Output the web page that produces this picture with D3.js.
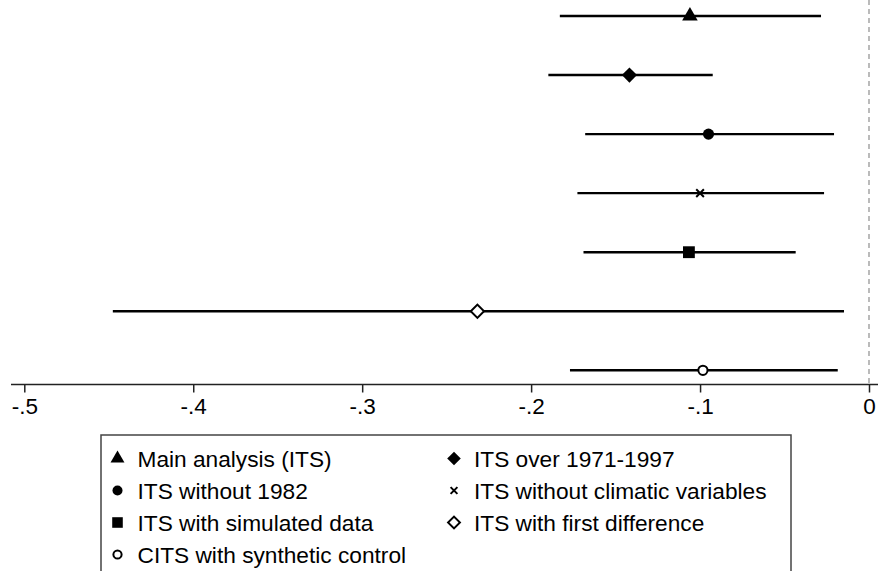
<!DOCTYPE html>
<html>
<head>
<meta charset="utf-8">
<script src="https://cdn.jsdelivr.net/npm/d3@7"></script>
<style>
  body { margin: 0; background: #fff; }
  svg { display: block; font-family: "Liberation Sans", Arial, sans-serif; }
</style>
</head>
<body>
<div id="chart"></div>
<script>
let width = 878, height = 571;

// Models, top to bottom
const models = ["Main analysis (ITS)", "ITS over 1971-1997", "ITS without 1982",
    "ITS without climatic variables", "ITS with simulated data",
    "ITS with first difference", "CITS with synthetic control"];
const estimates = [-0.106, -0.1418, -0.095, -0.100, -0.1066, -0.2318, -0.0983];
const lower = [-0.183, -0.1898, -0.168, -0.1726, -0.169, -0.4476, -0.177];
const upper = [-0.0284, -0.0925, -0.0207, -0.0266, -0.0434, -0.0148, -0.0185];
const markers = ["triangle", "diamond", "circle", "x", "square", "hdiamond", "hcircle"];
const xTicks = [-0.5, -0.4, -0.3, -0.2, -0.1, 0];
const xTickLabels = ["-.5", "-.4", "-.3", "-.2", "-.1", "0"];

const svg = d3.select("#chart")
        .append("svg")
        .attr("width", width)
        .attr("height", height);

const x = d3.scaleLinear().domain([-0.5, 0]).range([24.3, 869]);
const y = d3.scalePoint().domain(models).range([16, 370.3]);
const axisY = 384.5;

// reference line at zero
svg.append("line")
    .attr("x1", x(0)).attr("x2", x(0))
    .attr("y1", 0).attr("y2", axisY)
    .attr("stroke", "#aaa")
    .attr("stroke-width", 1.6)
    .attr("stroke-dasharray", "5,4");

// x axis
const axis = svg.append("g")
    .attr("transform", "translate(0," + axisY + ")")
    .call(d3.axisBottom(x).tickValues(xTicks).tickSizeOuter(0).tickSize(8).tickPadding(6)
        .tickFormat((d, i) => xTickLabels[i]));
axis.select(".domain").remove();
axis.append("line")
    .attr("x1", 11).attr("x2", width)
    .attr("stroke", "#222").attr("stroke-width", 1.5);
axis.selectAll(".tick line").attr("stroke", "#222").attr("stroke-width", 1.5);
axis.selectAll(".tick text")
    .attr("fill", "#000")
    .attr("font-size", 22.5)
    .attr("font-family", "Liberation Sans, Arial, sans-serif");

// draw a marker of the given type into a group
function drawMarker(g, type, s) {
    s = s || 1;
    if (type === "triangle") {
        g.append("path").attr("d", d3.symbol(d3.symbolTriangle, 105 * s)()).attr("fill", "#000");
    } else if (type === "diamond") {
        g.append("path").attr("d", d3.symbol(d3.symbolSquare, 115 * s)()).attr("transform", "rotate(45)").attr("fill", "#000");
    } else if (type === "circle") {
        g.append("circle").attr("r", 5.6 * Math.sqrt(s)).attr("fill", "#000");
    } else if (type === "x") {
        g.append("path").attr("d", d3.symbol(d3.symbolTimes, 40 * s)()).attr("fill", "none")
            .attr("stroke", "#000").attr("stroke-width", 2);
    } else if (type === "square") {
        g.append("path").attr("d", d3.symbol(d3.symbolSquare, 140 * s)()).attr("fill", "#000");
    } else if (type === "hdiamond") {
        g.append("path").attr("d", d3.symbol(d3.symbolSquare, 88 * s)()).attr("transform", "rotate(45)")
            .attr("fill", "#fff").attr("stroke", "#000").attr("stroke-width", 2);
    } else if (type === "hcircle") {
        g.append("circle").attr("r", 4.6 * Math.sqrt(s)).attr("fill", "#fff")
            .attr("stroke", "#000").attr("stroke-width", 2);
    }
}

// confidence intervals
const rows = models.map((m, i) => ({name: m, est: estimates[i], lo: lower[i], hi: upper[i], marker: markers[i]}));

svg.selectAll(".ci")
    .data(rows)
    .enter()
        .append("line")
        .attr("class", "ci")
        .attr("x1", d => x(d.lo))
        .attr("x2", d => x(d.hi))
        .attr("y1", d => y(d.name))
        .attr("y2", d => y(d.name))
        .attr("stroke", "#000")
        .attr("stroke-width", 2.4);

svg.selectAll(".pt")
    .data(rows)
    .enter()
        .append("g")
        .attr("class", "pt")
        .attr("transform", d => "translate(" + x(d.est) + "," + y(d.name) + ")")
        .each(function(d) { drawMarker(d3.select(this), d.marker); });

// legend
const legend = svg.append("g");
legend.append("rect")
    .attr("x", 101).attr("y", 435)
    .attr("width", 690).attr("height", 150)
    .attr("fill", "#fff")
    .attr("stroke", "#444")
    .attr("stroke-width", 1.5);

const legendItems = legend.selectAll(".item")
    .data(rows)
    .enter()
        .append("g")
        .attr("class", "item")
        .attr("transform", (d, i) => "translate(" + (i % 2 === 0 ? 117.5 : 454) + "," + (458.5 + Math.floor(i / 2) * 32) + ")");

legendItems.each(function(d) { drawMarker(d3.select(this), d.marker, 0.8); });

legendItems.append("text")
    .attr("x", 20)
    .attr("dy", "0.36em")
    .attr("font-size", 22.7)
    .attr("fill", "#000")
    .text(d => d.name);
</script>
</body>
</html>
